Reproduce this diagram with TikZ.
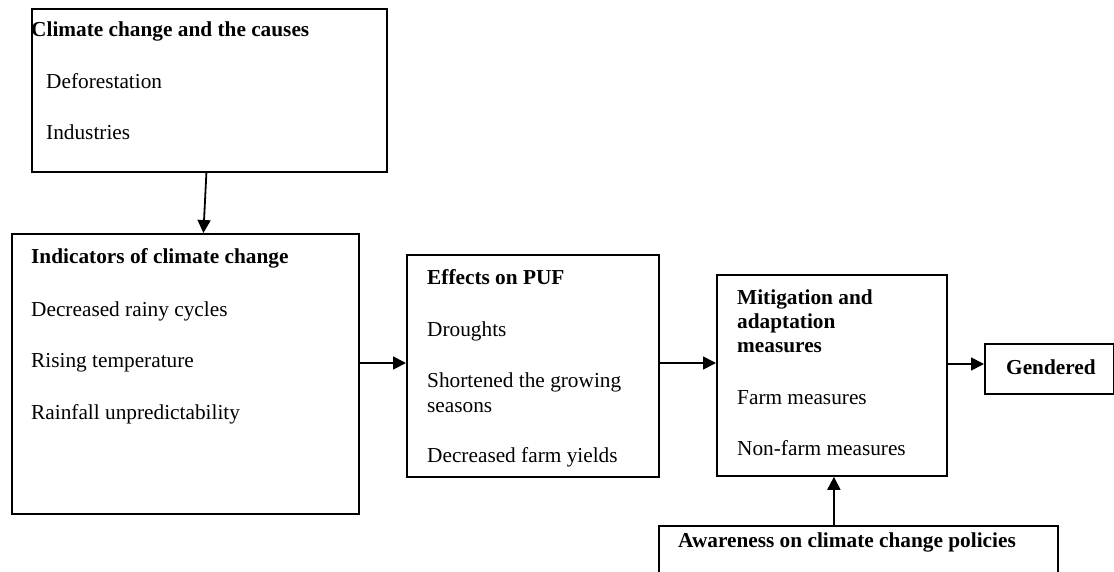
\documentclass[tikz,border=0pt]{standalone}
\usepackage{fontspec}
\setmainfont{Liberation Serif}
\usetikzlibrary{arrows.meta}
\begin{document}
\begin{tikzpicture}[x=1pt,y=-1pt,
  box/.style={draw=black, line width=1.8pt, fill=none, inner sep=0pt, anchor=north west},
  txt/.style={anchor=base west, inner sep=0pt, font=\fontsize{21.3}{26}\selectfont},
  btxt/.style={txt, font=\fontsize{21.3}{26}\selectfont\bfseries},
  arr/.style={line width=1.8pt, -{Triangle[length=13pt,width=13pt]}}]
\clip (0,0) rectangle (1114,572);
% boxes
\node[box, minimum width=355pt, minimum height=163pt] (cause) at (31,8) {};
\node[box, minimum width=347pt, minimum height=280pt] (ind) at (11,233) {};
\node[box, minimum width=252pt, minimum height=222pt] (eff) at (406,254) {};
\node[box, minimum width=230pt, minimum height=201pt] (mit) at (716,274) {};
\node[box, minimum width=129pt, minimum height=50pt] (gen) at (984,343) {};
\node[box, minimum width=399pt, minimum height=80pt] (aw) at (658,525) {};
% texts
\node[btxt] (cause-t) at (31,37) {Climate change and the causes};
\node[txt] (cause-1) at (46,89) {Deforestation};
\node[txt] (cause-2) at (46,140) {Industries};
\node[btxt] (ind-t) at (31,264) {Indicators of climate change};
\node[txt] (ind-1) at (31,316) {Decreased rainy cycles};
\node[txt] (ind-2) at (31,367) {Rising temperature};
\node[txt] (ind-3) at (31,419) {Rainfall unpredictability};
\node[btxt] (eff-t) at (427,284) {Effects on PUF};
\node[txt] (eff-1) at (427,336) {Droughts};
\node[txt] (eff-2a) at (427,387) {Shortened the growing};
\node[txt] (eff-2b) at (427,412) {seasons};
\node[txt] (eff-3) at (427,462) {Decreased farm yields};
\node[btxt] (mit-t1) at (737,304) {Mitigation and};
\node[btxt] (mit-t2) at (737,328) {adaptation};
\node[btxt] (mit-t3) at (737,352) {measures};
\node[txt] (mit-1) at (737,404) {Farm measures};
\node[txt] (mit-2) at (737,455) {Non-farm measures};
\node[btxt] (gen-t) at (1006,374) {Gendered};
\node[btxt] (aw-t) at (678,547) {Awareness on climate change policies};
% connectors
\draw[arr] ([xshift=-3pt]cause.south) -- ([xshift=18pt]ind.north);
\draw[arr] (ind.east |- 0,363) -- (eff.west |- 0,363);
\draw[arr] (eff.east |- 0,363) -- (mit.west |- 0,363);
\draw[arr] (mit.east |- 0,364) -- (gen.west |- 0,364);
\draw[arr] ([xshift=2pt]mit.south |- aw.north) -- ([xshift=2pt]mit.south);
\end{tikzpicture}
\end{document}
